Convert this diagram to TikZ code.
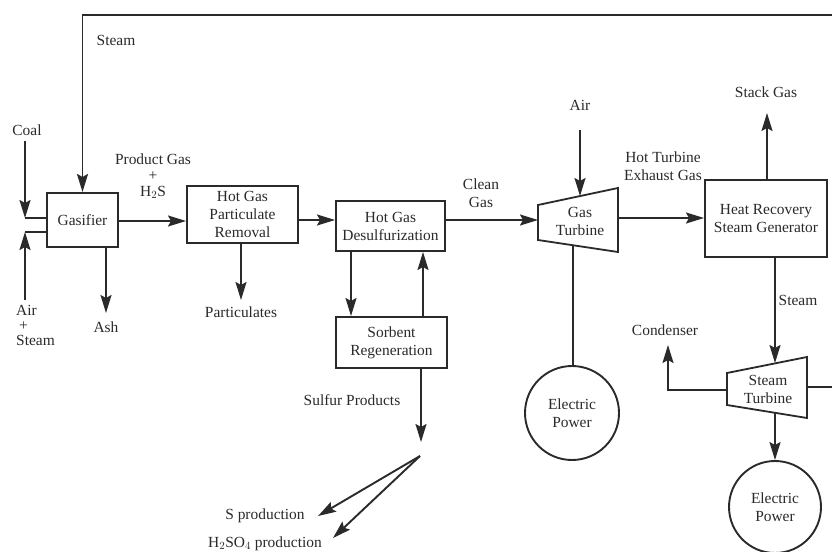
\documentclass[tikz,border=0pt]{standalone}
\usepackage{fontspec}
\setmainfont{Liberation Serif}
\usetikzlibrary{arrows.meta}
\definecolor{ink}{HTML}{2A2A2A}
\newcommand{\lblfont}{\fontsize{15.5}{18}\selectfont}
\begin{document}
\begin{tikzpicture}[x=1bp,y=-1bp,
  ln/.style={line width=1.9bp, draw=ink},
  arr/.style={ln, -{Stealth[length=18bp,width=11bp,inset=3bp]}},
  box/.style={draw=ink, line width=2bp, inner sep=0pt, align=center, font=\lblfont, text=ink},
  turb/.style={draw=ink, line width=1.8bp},
  lbl/.style={inner sep=0pt, align=center, font=\lblfont, text=ink},
  pow/.style={circle, draw=ink, line width=1.9bp, inner sep=0pt, align=center, font=\lblfont, text=ink}]
\useasboundingbox[fill=white] (0,0) rectangle (832,552);

% boxes
\node[box, minimum width=71bp, minimum height=54bp] (gas) at (82.5,220) {Gasifier};
\node[box, minimum width=111bp, minimum height=57bp] (part) at (242.5,214.5) {Hot Gas\\Particulate\\Removal};
\node[box, minimum width=109bp, minimum height=50bp] (desulf) at (390.5,226) {Hot Gas\\Desulfurization};
\node[box, minimum width=111bp, minimum height=51bp] (sorb) at (391.5,342.5) {Sorbent\\Regeneration};
\node[box, minimum width=122bp, minimum height=77bp] (hrsg) at (766,218.5) {Heat Recovery\\Steam Generator};
\node[pow, minimum size=94bp] (ep1) at (572,413) {Electric\\Power};
\node[pow, minimum size=92bp] (ep2) at (775,507) {Electric\\Power};

% gas turbine
\draw[turb] (538,205) coordinate (gt1) -- (618,188) coordinate (gt2) -- (618,252) coordinate (gt3) -- (538,240) coordinate (gt4) -- cycle;
\node[lbl] (gt) at (580,221) {Gas\\Turbine};
% steam turbine
\draw[turb] (727,373) coordinate (st1) -- (807,357) coordinate (st2) -- (807,418) coordinate (st3) -- (727,405) coordinate (st4) -- cycle;
\node[lbl] (st) at (768,389) {Steam\\Turbine};

% labels
\node[lbl] (steamtop) at (116,40) {Steam};
\node[lbl] (coal) at (27,130) {Coal};
\node[lbl, align=left, anchor=north west] (airst) at (16,305) {Air\\[-3bp]\hspace{3bp}+\\[-3bp]Steam};
\node[lbl] (prod) at (153,176) {Product Gas\\[-2bp]+\\[-2bp]H$_2$S};
\node[lbl] (ash) at (106,327) {Ash};
\node[lbl] (parts) at (241,312) {Particulates};
\node[lbl] (sulf) at (352,400) {Sulfur Products};
\node[lbl] (sprod) at (265,516) {S production};
\node[lbl] (hprod) at (265,544) {H$_2$SO$_4$ production};
\node[lbl] (clean) at (481,193) {Clean\\Gas};
\node[lbl] (air) at (580,105) {Air};
\node[lbl] (hot) at (663,166) {Hot Turbine\\Exhaust Gas};
\node[lbl] (stack) at (766,92) {Stack Gas};
\node[lbl] (steam2) at (798,300) {Steam};
\node[lbl] (cond) at (665,330) {Condenser};

% coordinates
\coordinate (coalStart) at (25,141);
\coordinate (coalEnd) at (25,218);
\coordinate (airStart) at (25,300);
\coordinate (airEnd) at (25,232);
\coordinate (ashEnd) at (106,313);
\coordinate (partEnd) at (241,300);
\coordinate (sulfEnd) at (421,442);
\coordinate (split) at (420,456);
\coordinate (sTip) at (318,516);
\coordinate (hTip) at (333,538);
\coordinate (gtW) at (538,220);
\coordinate (gtTop) at (580,196);
\coordinate (gtBot) at (573,245);
\coordinate (gtE) at (618,218);
\coordinate (stTop) at (775,363);
\coordinate (stBot) at (775,413);
\coordinate (stE) at (807,387);
\coordinate (stW) at (727,390);
\coordinate (condCorner) at (668,390);
\coordinate (condTip) at (668,345);
\coordinate (loopA) at (845,387);
\coordinate (loopB) at (845,15);
\coordinate (loopC) at (82.5,15);

% connectors
\draw[arr] (coalStart) -- (coalEnd);
\draw[ln] (coalEnd) -- (gas.west |- coalEnd);
\draw[arr] (airStart) -- (airEnd);
\draw[ln] (airEnd) -- (gas.west |- airEnd);
\draw[arr] (stE) -- (loopA) -- (loopB) -- (loopC) -- (gas.north);
\draw[arr] (gas.east |- 0,221) -- (part.west |- 0,221);
\draw[arr] (gas.south -| ashEnd) -- (ashEnd);
\draw[arr] (part.south -| partEnd) -- (partEnd);
\draw[arr] (part.east |- 0,220) -- (desulf.west |- 0,220);
\draw[arr] (desulf.south -| 351,0) -- (sorb.north -| 351,0);
\draw[arr] (sorb.north -| 423,0) -- (desulf.south -| 423,0);
\draw[arr] (sorb.south -| sulfEnd) -- (sulfEnd);
\draw[arr] (split) -- (sTip);
\draw[arr] (split) -- (hTip);
\draw[arr] (desulf.east |- gtW) -- (gtW);
\draw[arr] (air.south |- 0,130) -- (gtTop);
\draw[arr] (gtE) -- (hrsg.west |- gtE);
\draw[ln] (gtBot) -- (ep1.north -| gtBot);
\draw[arr] (hrsg.north -| 767,0) -- (767,113);
\draw[arr] (hrsg.south -| stTop) -- (stTop);
\draw[arr] (stW) -- (condCorner) -- (condTip);
\draw[arr] (stBot) -- (ep2.north);
\end{tikzpicture}
\end{document}
